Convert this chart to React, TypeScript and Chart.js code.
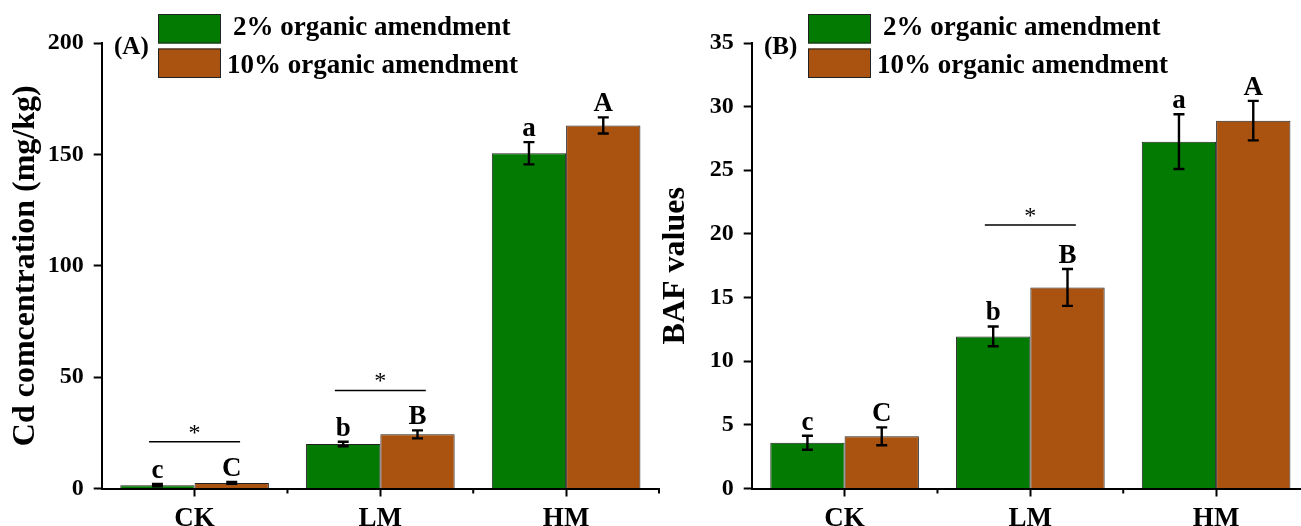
import React, { useEffect, useRef } from "react";
import { Chart, registerables } from "chart.js";

Chart.register(...registerables);

// ---------- data ----------
const categories = ["CK", "LM", "HM"];
const seriesLabels = ["2% organic amendment", "10% organic amendment"];

// Panel A: Cd concentration (mg/kg)
const cdLow = [1.5, 20.0, 150.5];
const cdHigh = [2.5, 24.3, 163.0];
const cdLowErr = [0.5, 1.0, 5.0];
const cdHighErr = [0.4, 1.8, 3.6];
const cdLowLetters = ["c", "b", "a"];
const cdHighLetters = ["C", "B", "A"];
const cdSigCats = [0, 1];
const cdSigLevels = [21, 44];
const cdTicks = [0, 50, 100, 150, 200];

// Panel B: BAF values
const bafLow = [3.6, 11.95, 27.25];
const bafHigh = [4.1, 15.8, 28.9];
const bafLowErr = [0.55, 0.78, 2.15];
const bafHighErr = [0.7, 1.45, 1.55];
const bafLowLetters = ["c", "b", "a"];
const bafHighLetters = ["C", "B", "A"];
const bafSigCats = [1];
const bafSigLevels = [20.7];
const bafTicks = [0, 5, 10, 15, 20, 25, 30, 35];

const GREEN = "#037B03";
const ORANGE = "#AA5311";
const EDGE = "#222222";
const SERIF = '"Liberation Serif", "Times New Roman", serif';

const CANVAS_W = 670;
const CANVAS_H = 540;

type PanelProps = {
  low: number[];
  high: number[];
  lowErr: number[];
  highErr: number[];
  lowLetters: string[];
  highLetters: string[];
  sigCats: number[];
  sigLevels: number[];
  ticks: number[];
  title: string;
  tag: string;
  left: number;
};

function Panel(p: PanelProps) {
  const ref = useRef<HTMLCanvasElement | null>(null);

  useEffect(() => {
    if (!ref.current) return;
    const series = [
      { values: p.low, errors: p.lowErr, letters: p.lowLetters },
      { values: p.high, errors: p.highErr, letters: p.highLetters },
    ];
    const yMax = p.ticks[p.ticks.length - 1];
    const step = p.ticks[1] - p.ticks[0];

    const overlay = {
      id: "overlay",
      afterDatasetsDraw(chart: any) {
        const ctx = chart.ctx as CanvasRenderingContext2D;
        const xs = chart.scales.x;
        const ys = chart.scales.y;
        ctx.save();
        // error bars and letters
        series.forEach((s, di) => {
          const meta = chart.getDatasetMeta(di);
          meta.data.forEach((bar: any, i: number) => {
            const v = s.values[i];
            const e = s.errors[i];
            const cx = bar.x;
            const yt = ys.getPixelForValue(v + e);
            const yb = ys.getPixelForValue(v - e);
            ctx.strokeStyle = "#000";
            ctx.lineWidth = 2.4;
            ctx.beginPath();
            ctx.moveTo(cx, yt);
            ctx.lineTo(cx, yb);
            ctx.moveTo(cx - 5.5, yt);
            ctx.lineTo(cx + 5.5, yt);
            ctx.moveTo(cx - 5.5, yb);
            ctx.lineTo(cx + 5.5, yb);
            ctx.stroke();
            ctx.fillStyle = "#000";
            ctx.font = `bold 27px ${SERIF}`;
            ctx.textAlign = "center";
            ctx.textBaseline = "alphabetic";
            ctx.fillText(s.letters[i], cx, yt - 6);
          });
        });
        // significance lines
        p.sigCats.forEach((c, k) => {
          const yy = ys.getPixelForValue(p.sigLevels[k]);
          const x1 = xs.getPixelForValue(c - 0.245);
          const x2 = xs.getPixelForValue(c + 0.245);
          ctx.strokeStyle = "#000";
          ctx.lineWidth = 1.6;
          ctx.beginPath();
          ctx.moveTo(x1, yy);
          ctx.lineTo(x2, yy);
          ctx.stroke();
          ctx.fillStyle = "#000";
          ctx.font = `24px ${SERIF}`;
          ctx.textAlign = "center";
          ctx.textBaseline = "alphabetic";
          ctx.fillText("*", (x1 + x2) / 2, yy - 2);
        });
        // minor ticks at category boundaries
        ctx.strokeStyle = "#000";
        ctx.lineWidth = 2;
        const yAxis = ys.getPixelForValue(0);
        for (let i = 0; i < categories.length; i++) {
          const bx = xs.getPixelForValue(i + 0.5);
          ctx.beginPath();
          ctx.moveTo(bx, yAxis);
          ctx.lineTo(bx, yAxis + 5);
          ctx.stroke();
        }
        ctx.restore();
      },
      afterDraw(chart: any) {
        const ctx = chart.ctx as CanvasRenderingContext2D;
        ctx.save();
        // panel tag
        ctx.fillStyle = "#000";
        ctx.font = `bold 25px ${SERIF}`;
        ctx.textAlign = "left";
        ctx.textBaseline = "alphabetic";
        ctx.fillText(p.tag, 114, 54);
        // legend
        const boxes = [
          { y: 14, color: GREEN, tx: 233, ty: 35 },
          { y: 48.5, color: ORANGE, tx: 227, ty: 73 },
        ];
        boxes.forEach((b, i) => {
          ctx.fillStyle = b.color;
          ctx.fillRect(158, b.y, 63, 29.5);
          ctx.strokeStyle = EDGE;
          ctx.lineWidth = 1;
          ctx.strokeRect(158.5, b.y + 0.5, 62, 28.5);
          ctx.fillStyle = "#000";
          ctx.font = `bold 27px ${SERIF}`;
          ctx.textAlign = "left";
          ctx.textBaseline = "alphabetic";
          ctx.fillText(seriesLabels[i], b.tx, b.ty);
        });
        ctx.restore();
      },
    };

    const chart = new Chart(ref.current, {
      type: "bar",
      data: {
        labels: categories,
        datasets: [
          {
            label: seriesLabels[0],
            data: p.low,
            backgroundColor: GREEN,
            borderColor: EDGE,
            borderWidth: 1,
            categoryPercentage: 0.8,
            barPercentage: 1.0,
          },
          {
            label: seriesLabels[1],
            data: p.high,
            backgroundColor: ORANGE,
            borderColor: EDGE,
            borderWidth: 1,
            categoryPercentage: 0.8,
            barPercentage: 1.0,
          },
        ],
      },
      options: {
        responsive: false,
        animation: false,
        devicePixelRatio: 1,
        layout: { padding: { top: 43, right: 11, bottom: 0, left: 0 } },
        plugins: {
          legend: { display: false },
          tooltip: { enabled: false },
        },
        scales: {
          x: {
            afterFit: (s: any) => {
              s.height = CANVAS_H - 488.5;
            },
            grid: {
              offset: false,
              drawOnChartArea: false,
              drawTicks: true,
              tickLength: 8,
              tickColor: "#000",
              tickWidth: 2,
            },
            border: { display: true, color: "#000", width: 2 },
            ticks: {
              color: "#000",
              padding: 6,
              font: { family: SERIF, size: 27, weight: "bold" },
            },
          },
          y: {
            min: 0,
            max: yMax,
            afterFit: (s: any) => {
              s.width = 101.7;
            },
            grid: {
              drawOnChartArea: false,
              drawTicks: true,
              tickLength: 8,
              tickColor: "#000",
              tickWidth: 2,
            },
            border: { display: true, color: "#000", width: 2 },
            ticks: {
              stepSize: step,
              color: "#000",
              padding: 10,
              font: { family: SERIF, size: 24, weight: "bold" },
            },
            title: {
              display: true,
              text: p.title,
              color: "#000",
              padding: { top: 7, bottom: 0 },
              font: { family: SERIF, size: 32, weight: "bold", lineHeight: 1.2 },
            },
          },
        },
      },
      plugins: [overlay],
    } as any);

    return () => chart.destroy();
  }, []);

  return (
    <canvas
      ref={ref}
      width={CANVAS_W}
      height={CANVAS_H}
      style={{ position: "absolute", left: p.left, top: 0, width: CANVAS_W, height: CANVAS_H }}
    />
  );
}

export default function App() {
  return (
    <div
      style={{
        position: "absolute",
        left: 0,
        top: 0,
        width: 1301,
        height: 526,
        overflow: "hidden",
        background: "#fff",
      }}
    >
      <Panel
        low={cdLow}
        high={cdHigh}
        lowErr={cdLowErr}
        highErr={cdHighErr}
        lowLetters={cdLowLetters}
        highLetters={cdHighLetters}
        sigCats={cdSigCats}
        sigLevels={cdSigLevels}
        ticks={cdTicks}
        title="Cd comcentration (mg/kg)"
        tag="(A)"
        left={0}
      />
      <Panel
        low={bafLow}
        high={bafHigh}
        lowErr={bafLowErr}
        highErr={bafHighErr}
        lowLetters={bafLowLetters}
        highLetters={bafHighLetters}
        sigCats={bafSigCats}
        sigLevels={bafSigLevels}
        ticks={bafTicks}
        title="BAF values"
        tag="(B)"
        left={650}
      />
    </div>
  );
}
